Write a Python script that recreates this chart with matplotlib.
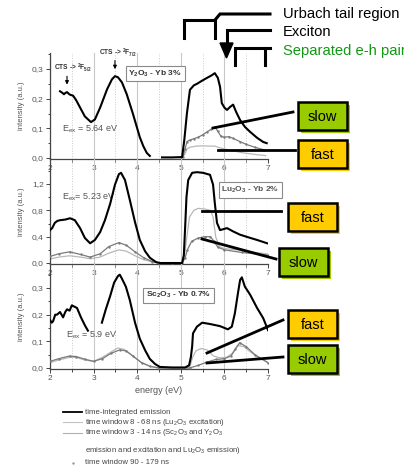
import matplotlib.pyplot as plt
import matplotlib.ticker as mticker
from matplotlib.lines import Line2D
from matplotlib.patches import Rectangle, Polygon
import numpy as np

plt.rcParams['font.family'] = ['Liberation Sans', 'DejaVu Sans']
plt.rcParams['mathtext.default'] = 'regular'

nan = np.nan

# Y2O3 - Yb 3%  (Eex = 5.64 eV)
y2o3_int_e = [2.23, 2.28, 2.32, 2.36, 2.39, 2.45, 2.53, 2.6, 2.69, 2.8, 2.94, 3.03, 3.15, 3.31,
              3.42, 3.49, 3.56, 3.65, 3.76, 3.9, 3.98, 4.06, 4.14, 4.22, 4.29, 4.4, 4.57, 4.8,
              5.03, 5.08, 5.14, 5.21, 5.3, 5.37, 5.48, 5.6, 5.7, 5.78, 5.85, 5.9, 5.94, 6.0,
              6.06, 6.13, 6.2, 6.27, 6.36, 6.47, 6.59, 6.75, 6.89, 6.97]
y2o3_int = [0.225, 0.22, 0.215, 0.22, 0.222, 0.214, 0.21, 0.195, 0.17, 0.14, 0.121, 0.13, 0.17,
            0.232, 0.265, 0.276, 0.272, 0.255, 0.215, 0.15, 0.11, 0.07, 0.04, 0.017, 0.007, nan,
            0.002, 0.002, 0.003, 0.06, 0.15, 0.23, 0.245, 0.25, 0.26, 0.27, 0.278, 0.286, 0.27,
            0.24, 0.185, 0.17, 0.162, 0.172, 0.18, 0.155, 0.128, 0.105, 0.088, 0.068, 0.054, 0.05]
y2o3_slow_e = [5.0, 5.05, 5.1, 5.14, 5.2, 5.3, 5.4, 5.5, 5.6, 5.7, 5.78, 5.85, 5.92, 6.0, 6.1,
               6.2, 6.36, 6.5, 6.7, 6.9]
y2o3_slow = [0.002, 0.005, 0.03, 0.055, 0.06, 0.065, 0.07, 0.078, 0.088, 0.097, 0.105, 0.09,
             0.073, 0.07, 0.072, 0.066, 0.055, 0.046, 0.036, 0.028]
y2o3_fast_e = [5.0, 5.05, 5.1, 5.14, 5.2, 5.35, 5.5, 5.65, 5.78, 5.9, 6.1, 6.4, 6.7, 6.95]
y2o3_fast = [0.002, 0.004, 0.015, 0.03, 0.036, 0.04, 0.041, 0.04, 0.04, 0.034, 0.027, 0.018,
             0.012, 0.008]

# Lu2O3 - Yb 2%  (Eex = 5.23 eV)
lu2o3_int_e = [2.0, 2.05, 2.11, 2.17, 2.23, 2.35, 2.46, 2.57, 2.69, 2.8, 2.92, 3.03, 3.15, 3.26,
               3.38, 3.49, 3.58, 3.63, 3.72, 3.83, 3.95, 4.06, 4.18, 4.29, 4.43, 4.52, 4.8, 5.03,
               5.07, 5.1, 5.13, 5.17, 5.26, 5.37, 5.51, 5.67, 5.74, 5.78, 5.83, 5.9, 6.06, 6.2,
               6.36, 6.55, 6.75, 6.98]
lu2o3_int = [0.5, 0.53, 0.61, 0.64, 0.65, 0.66, 0.68, 0.65, 0.53, 0.38, 0.30, 0.35, 0.47, 0.65,
             0.90, 1.19, 1.35, 1.37, 1.26, 0.96, 0.62, 0.35, 0.18, 0.08, 0.015, 0.0, 0.0, 0.0,
             0.12, 0.55, 1.0, 1.26, 1.37, 1.38, 1.37, 1.34, 1.19, 0.91, 0.61, 0.50, 0.53, 0.48,
             0.43, 0.39, 0.35, 0.30]
lu2o3_slow_e = [2.0, 2.2, 2.45, 2.7, 2.92, 3.15, 3.35, 3.58, 3.75, 3.95, 4.15, 4.35, 4.5, 4.8,
                5.03, 5.1, 5.15, 5.25, 5.4, 5.55, 5.68, 5.76, 5.85, 6.0, 6.4, 7.0]
lu2o3_slow = [0.1, 0.14, 0.17, 0.13, 0.09, 0.14, 0.25, 0.31, 0.27, 0.17, 0.08, 0.02, 0.0, 0.0,
              0.0, 0.08, 0.2, 0.33, 0.38, 0.4, 0.4, 0.33, 0.24, 0.2, 0.16, 0.12]
lu2o3_fast_e = [2.0, 2.2, 2.45, 2.7, 2.92, 3.15, 3.35, 3.58, 3.75, 3.95, 4.15, 4.35, 4.5, 4.8,
                5.03, 5.08, 5.12, 5.2, 5.3, 5.4, 5.55, 5.68, 5.74, 5.8, 5.88, 6.0, 6.3, 6.7, 6.98]
lu2o3_fast = [0.06, 0.09, 0.11, 0.09, 0.065, 0.09, 0.15, 0.2, 0.18, 0.11, 0.05, 0.015, 0.0, 0.0,
              0.0, 0.1, 0.3, 0.7, 0.8, 0.83, 0.82, 0.8, 0.7, 0.4, 0.25, 0.22, 0.2, 0.16, 0.14]

# Sc2O3 - Yb 0.7%  (Eex = 5.9 eV)
sc2o3_int_e = [2.0, 2.04, 2.07, 2.12, 2.16, 2.23, 2.3, 2.35, 2.39, 2.45, 2.5, 2.56, 2.62, 2.71,
               2.8, 2.87, 3.0, 3.19, 3.28, 3.38, 3.47, 3.56, 3.6, 3.65, 3.74, 3.83, 3.95, 4.06,
               4.18, 4.29, 4.41, 4.52, 4.8, 5.1, 5.19, 5.23, 5.26, 5.28, 5.37, 5.49, 5.67, 5.9,
               6.08, 6.17, 6.24, 6.31, 6.36, 6.4, 6.47, 6.59, 6.75, 6.89, 7.0]
sc2o3_int = [0.18, 0.17, 0.175, 0.2, 0.2, 0.21, 0.19, 0.21, 0.22, 0.215, 0.235, 0.23, 0.225,
             0.19, 0.16, 0.14, nan, 0.17, 0.22, 0.27, 0.32, 0.345, 0.35, 0.335, 0.305, 0.255,
             0.17, 0.11, 0.067, 0.034, 0.015, 0.004, 0.002, 0.002, 0.01, 0.04, 0.08, 0.13, 0.155,
             0.17, 0.165, 0.157, 0.145, 0.155, 0.205, 0.28, 0.33, 0.34, 0.305, 0.275, 0.225,
             0.187, 0.142]
sc2o3_slow_e = [2.0, 2.2, 2.45, 2.6, 2.8, 3.0, 3.2, 3.4, 3.6, 3.75, 3.9, 4.1, 4.3, 4.5, 5.2,
                5.4, 5.6, 5.8, 6.0, 6.15, 6.25, 6.35, 6.5, 6.7, 7.0]
sc2o3_slow = [0.025, 0.035, 0.045, 0.043, 0.033, 0.025, 0.035, 0.055, 0.068, 0.064, 0.045,
              0.02, 0.006, 0.0, 0.0, 0.01, 0.022, 0.032, 0.035, 0.045, 0.07, 0.095, 0.08, 0.05,
              0.02]
sc2o3_fast_e = [2.0, 2.2, 2.45, 2.6, 2.8, 3.0, 3.2, 3.4, 3.55, 3.7, 3.9, 4.1, 4.3, 4.5, 5.2,
                5.27, 5.35, 5.47, 5.6, 5.75, 5.9, 6.05, 6.18, 6.3, 6.45, 6.6, 6.75, 7.0]
sc2o3_fast = [0.02, 0.03, 0.04, 0.04, 0.03, 0.025, 0.04, 0.06, 0.075, 0.07, 0.045, 0.02, 0.006,
              0.0, 0.0, 0.04, 0.065, 0.073, 0.068, 0.045, 0.038, 0.04, 0.055, 0.085, 0.08, 0.06,
              0.042, 0.02]

panel_names = [r"Y$_2$O$_3$ - Yb 3%", r"Lu$_2$O$_3$ - Yb 2%", r"Sc$_2$O$_3$ - Yb 0.7%"]
panel_eex = [r"E$_{ex}$ = 5.64 eV", r"E$_{ex}$= 5.23 eV", r"E$_{ex}$ = 5.9 eV"]
legend_labels = ["time-integrated emission",
                 r"time window 8 - 68 ns (Lu$_2$O$_3$ excitation)",
                 r"time window 3 - 14 ns (Sc$_2$O$_3$ and Y$_2$O$_3$",
                 r"emission and excitation and Lu$_2$O$_3$ emission)",
                 "time window 90 - 179 ns"]

W, H = 404, 472


def fx(px):
    return px / W


def fy(py):
    return 1 - py / H


fig = plt.figure(figsize=(W / 100, H / 100), dpi=100)

# axes placement (pixels): top, bottom, ylim, major and minor y step
panels = [(53, 159, (-0.0034, 0.354), 0.1, 0.05),
          (159, 264, (-0.015, 1.58), 0.4, 0.2),
          (264, 369, (-0.0037, 0.39), 0.1, 0.05)]
data = [(y2o3_int_e, y2o3_int, y2o3_slow_e, y2o3_slow, y2o3_fast_e, y2o3_fast),
        (lu2o3_int_e, lu2o3_int, lu2o3_slow_e, lu2o3_slow, lu2o3_fast_e, lu2o3_fast),
        (sc2o3_int_e, sc2o3_int, sc2o3_slow_e, sc2o3_slow, sc2o3_fast_e, sc2o3_fast)]

grey_txt = '#555555'
axes = []
for (top, bot, ylim, maj, mnr), (ie, iv, se, sv, fe, fv) in zip(panels, data):
    ax = fig.add_axes([fx(50), fy(bot), 218 / W, (bot - top) / H])
    ax.set_facecolor('none')
    ax.plot(fe, fv, color='#b8b8b8', lw=0.9, zorder=2)
    ax.plot(se, sv, color='#7a7a7a', lw=0.9, marker='.', ms=1.4, zorder=3)
    ax.plot(ie, iv, color='black', lw=1.5, zorder=4)
    ax.set_xlim(2, 7)
    ax.set_ylim(*ylim)
    ax.xaxis.set_major_locator(mticker.MultipleLocator(1))
    ax.xaxis.set_minor_locator(mticker.MultipleLocator(0.5))
    ax.yaxis.set_major_locator(mticker.MultipleLocator(maj))
    ax.yaxis.set_minor_locator(mticker.MultipleLocator(mnr))
    ax.yaxis.set_major_formatter(mticker.FuncFormatter(lambda v, p: f"{v:.1f}".replace('.', ',')))
    ax.grid(axis='x', which='major', color='#c8c8c8', lw=0.8, ls='-')
    ax.grid(axis='x', which='minor', color='#c8c8c8', lw=0.7, ls=':')
    ax.set_axisbelow(True)
    for s in ['top', 'right']:
        ax.spines[s].set_visible(False)
    for s in ['left', 'bottom']:
        ax.spines[s].set_color('#444444')
        ax.spines[s].set_linewidth(0.9)
    ax.tick_params(which='both', colors='#444444', labelcolor=grey_txt, labelsize=6, width=0.7)
    ax.tick_params(which='major', length=3, pad=1.5)
    ax.tick_params(which='minor', length=1.8)
    ax.set_ylabel('intensity (a.u.)', fontsize=5.5, color=grey_txt)
    ax.yaxis.set_label_coords(-25 / 218, 0.5)
    axes.append(ax)

ax1, ax2, ax3 = axes
ax3.set_xlabel('energy (eV)', fontsize=6.5, color=grey_txt, labelpad=3)

box = dict(boxstyle='square,pad=0.3', fc='white', ec='#8a8a8a', lw=0.8)
ax1.text(3.8, 0.285, panel_names[0], fontsize=6, fontweight='bold', color='#333333',
         va='center', bbox=box)
ax2.text(5.93, 1.11, panel_names[1], fontsize=6, fontweight='bold', color='#555555',
         va='center', bbox=box)
ax3.text(4.2, 0.273, panel_names[2], fontsize=6, fontweight='bold', color='#333333',
         va='center', bbox=box)
ax1.text(2.27, 0.098, panel_eex[0], fontsize=6.5, color=grey_txt, va='center')
ax2.text(2.27, 1.0, panel_eex[1], fontsize=6.5, color=grey_txt, va='center')
ax3.text(2.36, 0.124, panel_eex[2], fontsize=6.5, color=grey_txt, va='center')

ax1.text(2.1, 0.303, r"CTS -> $^2$F$_{5/2}$", fontsize=4.8, fontweight='bold', color='#333333',
         va='center')
ax1.annotate('', xy=(2.39, 0.238), xytext=(2.39, 0.285),
             arrowprops=dict(arrowstyle='-|>', color='black', lw=0.8, mutation_scale=5))
ax1.text(3.12, 0.356, r"CTS -> $^2$F$_{7/2}$", fontsize=4.8, fontweight='bold', color='#333333',
         va='center', clip_on=False)
ax1.annotate('', xy=(3.49, 0.29), xytext=(3.49, 0.338),
             arrowprops=dict(arrowstyle='-|>', color='black', lw=0.8, mutation_scale=5))

# brackets at top right
lw = 2.2
segs = [[(184, 38), (184, 20), (215, 20), (215, 38)],
        [(215, 20), (220, 14), (270, 14)],
        [(270, 30), (227, 30), (227, 44)],
        [(235, 65), (235, 48), (270, 48)],
        [(265, 48), (265, 65)]]
for seg in segs:
    xs = [fx(p[0]) for p in seg]
    ys = [fy(p[1]) for p in seg]
    fig.add_artist(Line2D(xs, ys, color='black', lw=lw, solid_joinstyle='miter'))
fig.add_artist(Polygon([(fx(220), fy(43)), (fx(233), fy(43)), (fx(226.5), fy(58))],
                       closed=True, fc='black', ec='black', transform=fig.transFigure))
fig.text(fx(283), fy(14), 'Urbach tail region', fontsize=10.6, va='center', color='black')
fig.text(fx(283), fy(32), 'Exciton', fontsize=10.6, va='center', color='black')
fig.text(fx(283), fy(51), 'Separated e-h pairs', fontsize=10.6, va='center', color='#119911')

# slow / fast callouts
callouts = [('slow', '#99cc00', 298, 102, (293, 112), (213, 128)),
            ('fast', '#ffcc00', 298, 140, (295, 150), (218, 150)),
            ('fast', '#ffcc00', 288, 203, (281, 211), (202, 211)),
            ('slow', '#99cc00', 279, 248, (276, 259), (202, 239)),
            ('fast', '#ffcc00', 288, 310, (283, 320), (207, 353)),
            ('slow', '#99cc00', 288, 345, (283, 357), (207, 363))]
bw, bh = 49, 28
for label, col, x0, y0, p1, p2 in callouts:
    fig.add_artist(Line2D([fx(p1[0]), fx(p2[0])], [fy(p1[1]), fy(p2[1])], color='black', lw=2.0))
    fig.add_artist(Rectangle((fx(x0 + 3), fy(y0 + bh + 3)), bw / W, bh / H, fc=col, ec='none',
                             transform=fig.transFigure, zorder=3))
    fig.add_artist(Rectangle((fx(x0), fy(y0 + bh)), bw / W, bh / H, fc=col, ec='black', lw=1.8,
                             transform=fig.transFigure, zorder=4))
    fig.text(fx(x0 + bw / 2), fy(y0 + bh / 2 + 1), label, fontsize=10.5, ha='center', va='center',
             zorder=5)

# legend below the plot
leg_txt = '#444444'
fig.add_artist(Line2D([fx(63), fx(82)], [fy(412), fy(412)], color='black', lw=1.3))
fig.add_artist(Line2D([fx(63), fx(82)], [fy(422), fy(422)], color='#c4c4c4', lw=0.8))
fig.add_artist(Line2D([fx(63), fx(82)], [fy(433), fy(433)], color='#b0b0b0', lw=0.8))
fig.add_artist(Line2D([fx(73)], [fy(463)], color='#999999', marker='.', ms=1.5, ls='none'))
for lab, py in zip(legend_labels, [412, 422, 433, 450, 463]):
    fig.text(fx(85), fy(py), lab, fontsize=5.6, color=leg_txt, va='center')

fig.savefig('out.png', dpi=100)
